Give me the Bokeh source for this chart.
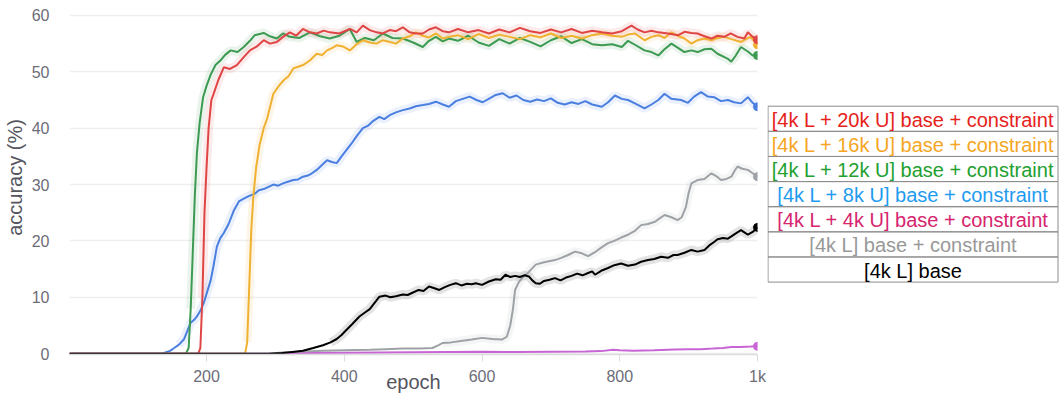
from bokeh.plotting import figure
from bokeh.models import Range1d, FixedTicker, ColumnDataSource
from bokeh.layouts import row
from bokeh.embed import file_html
from bokeh.resources import INLINE
from bokeh.core.properties import value
import numpy as np

# ---------------- data ----------------
green_x = [1, 170, 174, 177, 180, 183, 186, 190, 195, 200, 206, 213, 220, 227, 235, 245, 254, 263, 270, 283, 292, 302, 311, 321, 335, 350, 365, 379, 393, 408, 418, 430, 443, 456, 470, 485, 500, 514, 523, 533, 543, 552, 565, 580, 595, 610, 625, 640, 655, 670, 685, 700, 715, 730, 745, 760, 774, 789, 803, 812, 822, 836, 846, 856, 865, 875, 884, 894, 904, 913, 923, 933, 942, 952, 957, 962, 968, 976, 986, 993, 1000]
green_y = [0, 0, 1, 8, 18, 28, 35.6, 41, 45.5, 47.5, 49.5, 51.2, 52, 53, 53.8, 53.5, 54.4, 55.5, 56.5, 56.9, 56.3, 55.9, 56.8, 56.2, 56.0, 57.0, 56.3, 55.9, 56.4, 57.6, 55.3, 56.0, 55.6, 56.8, 56.0, 55.9, 55.2, 54.4, 55.5, 56.2, 55.4, 55.9, 55.5, 56.4, 55.2, 54.6, 55.8, 55.0, 56.0, 55.3, 54.5, 55.6, 56.3, 55.1, 55.8, 54.9, 54.7, 54.9, 54.4, 55.5, 54.8, 53.8, 53.5, 52.9, 54.0, 55.0, 54.3, 53.5, 53.8, 53.5, 54.0, 54.1, 53.2, 52.6, 52.3, 51.8, 52.8, 54.4, 53.6, 52.9, 52.9]

red_x = [1, 188, 191, 194, 197, 200, 203, 207, 210, 217, 225, 234, 244, 254, 263, 273, 283, 292, 302, 311, 321, 330, 340, 350, 360, 370, 379, 393, 408, 418, 427, 437, 447, 456, 466, 475, 485, 495, 504, 514, 523, 533, 543, 552, 565, 580, 595, 610, 625, 640, 655, 670, 685, 700, 715, 730, 745, 760, 774, 789, 803, 817, 826, 836, 846, 856, 870, 885, 894, 904, 913, 923, 933, 942, 952, 961, 971, 981, 986, 993, 1000]
red_y = [0, 0, 1, 10, 25, 33, 40, 45, 46, 48.5, 50.8, 50.5, 51.2, 52.6, 53.8, 54.5, 55.6, 55.0, 55.3, 56.2, 57.0, 56.4, 57.6, 57.0, 56.8, 57.3, 57.0, 56.8, 57.6, 57.0, 58.2, 57.4, 57.0, 56.8, 57.4, 57.2, 57.9, 57.0, 56.8, 56.8, 57.5, 57.9, 57.2, 57.0, 57.6, 57.0, 57.4, 56.8, 57.5, 57.0, 57.8, 57.2, 56.9, 57.5, 57.0, 57.6, 56.9, 57.3, 57.0, 56.8, 57.2, 58.2, 57.5, 57.0, 57.3, 57.0, 56.8, 56.5, 57.1, 56.9, 56.8, 56.3, 55.9, 56.4, 56.2, 56.8, 56.2, 55.9, 57.0, 56.2, 55.7]

orange_x = [1, 256, 259, 262, 265, 268, 272, 277, 283, 288, 297, 305, 312, 319, 326, 333, 340, 350, 360, 368, 375, 382, 389, 398, 408, 418, 427, 437, 447, 456, 466, 475, 485, 495, 504, 514, 523, 533, 543, 552, 565, 580, 595, 610, 625, 640, 655, 670, 685, 700, 715, 730, 745, 760, 774, 789, 803, 812, 822, 836, 846, 856, 865, 875, 884, 894, 904, 913, 923, 933, 942, 952, 962, 976, 983, 990, 995, 1000]
orange_y = [0, 0, 2, 12, 22, 28, 33, 37, 40, 41.7, 46.1, 47.5, 48.5, 49.2, 50.6, 50.9, 51.2, 52.0, 53.2, 53.0, 53.8, 54.2, 54.7, 54.5, 53.8, 54.9, 55.6, 55.2, 55.0, 55.6, 55.3, 55.0, 55.9, 56.3, 57.0, 56.4, 56.1, 56.8, 55.9, 56.2, 56.5, 55.8, 56.7, 56.0, 56.6, 56.2, 55.8, 56.5, 56.1, 56.8, 56.0, 56.4, 55.9, 56.5, 56.8, 56.4, 56.2, 56.6, 56.8, 55.6, 56.2, 56.5, 56.0, 57.0, 56.4, 55.9, 55.0, 55.6, 55.9, 55.6, 56.0, 56.2, 55.8, 55.3, 55.8, 56.2, 55.5, 54.8]

blue_x = [1, 135, 140, 147, 153, 160, 167, 172, 177, 182, 186, 191, 196, 201, 206, 210, 215, 220, 225, 232, 240, 247, 254, 262, 269, 276, 283, 290, 297, 304, 311, 318, 326, 333, 340, 347, 353, 360, 368, 375, 382, 389, 396, 403, 410, 418, 427, 434, 441, 451, 458, 466, 475, 485, 495, 504, 514, 523, 533, 543, 552, 562, 572, 582, 592, 601, 611, 620, 630, 640, 650, 660, 670, 680, 690, 700, 710, 720, 730, 740, 750, 760, 774, 783, 793, 803, 812, 822, 836, 846, 856, 865, 875, 889, 899, 908, 918, 928, 937, 947, 957, 966, 976, 986, 993, 1000]
blue_y = [0, 0, 0.2, 0.5, 1.0, 1.6, 2.5, 4.0, 5.5, 6.0, 6.6, 7.6, 9.0, 11.0, 13.0, 15.5, 19.0, 20.5, 21.4, 23.0, 25.5, 27.0, 27.5, 28.0, 28.3, 29.0, 29.2, 29.6, 30.0, 29.8, 30.2, 30.5, 30.8, 30.9, 31.4, 31.6, 32.0, 32.6, 33.5, 34.3, 34.0, 33.8, 35.0, 36.1, 37.2, 38.6, 40.0, 40.4, 41.2, 42.0, 41.6, 42.3, 42.8, 43.2, 43.5, 43.9, 44.1, 44.3, 44.7, 44.2, 43.8, 44.8, 45.2, 45.6, 45.0, 44.6, 45.3, 45.9, 46.2, 45.4, 45.8, 45.0, 44.7, 45.1, 44.8, 45.3, 44.5, 44.2, 44.6, 44.3, 44.8, 44.2, 43.8, 44.6, 45.8, 45.2, 45.0, 44.4, 43.5, 44.2, 45.0, 46.1, 45.2, 45.0, 44.5, 45.6, 46.4, 45.6, 45.5, 44.8, 45.0, 44.6, 44.4, 45.5, 44.5, 43.8]

pink_x = [1, 300, 340, 400, 450, 500, 550, 600, 650, 700, 750, 773, 790, 800, 820, 850, 880, 900, 918, 935, 950, 962, 975, 990, 1000]
pink_y = [0, 0, 0.1, 0.15, 0.2, 0.25, 0.3, 0.35, 0.3, 0.35, 0.4, 0.45, 0.7, 0.6, 0.5, 0.6, 0.75, 0.8, 0.8, 0.9, 1.0, 1.2, 1.2, 1.25, 1.3]

gray_x = [1, 290, 310, 340, 370, 400, 437, 460, 485, 510, 528, 537, 543, 555, 572, 585, 600, 615, 629, 636, 641, 645, 648, 653, 658, 668, 678, 690, 706, 715, 725, 735, 745, 754, 764, 773, 783, 792, 802, 812, 822, 831, 841, 851, 858, 865, 875, 884, 890, 896, 900, 904, 913, 923, 933, 940, 947, 955, 962, 967, 971, 978, 986, 993, 1000]
gray_y = [0, 0, 0.2, 0.4, 0.5, 0.6, 0.7, 0.8, 0.9, 0.9, 1.0, 1.5, 1.9, 2.0, 2.3, 2.5, 2.8, 2.6, 2.5, 3.0, 5.0, 8.0, 11.3, 12.6, 13.4, 14.5, 15.8, 16.2, 16.6, 17.0, 17.5, 18.1, 17.8, 17.3, 18.0, 18.8, 19.6, 20.0, 20.6, 21.1, 21.8, 22.8, 23.0, 23.4, 24.0, 24.6, 24.2, 23.7, 24.2, 26.0, 28.5, 30.2, 30.8, 31.0, 32.0, 31.5, 30.8, 31.0, 31.4, 32.5, 33.2, 32.8, 32.6, 32.0, 31.4]

black_x = [1, 290, 310, 325, 340, 355, 369, 380, 389, 396, 403, 412, 422, 430, 437, 444, 451, 460, 467, 475, 485, 492, 499, 508, 515, 523, 531, 538, 546, 554, 562, 570, 578, 585, 591, 600, 610, 620, 627, 634, 641, 648, 655, 662, 668, 673, 678, 684, 690, 698, 706, 714, 722, 730, 738, 746, 754, 760, 764, 773, 783, 792, 802, 812, 822, 831, 841, 850, 860, 870, 878, 884, 894, 904, 913, 923, 930, 937, 942, 950, 957, 962, 968, 976, 981, 986, 993, 1000]
black_y = [0, 0, 0.1, 0.3, 0.5, 1.0, 1.5, 2.0, 2.6, 3.3, 4.2, 5.3, 6.6, 7.3, 7.9, 9.0, 10.1, 10.3, 10.0, 10.2, 10.5, 10.4, 10.8, 11.3, 11.1, 11.9, 11.6, 11.3, 11.8, 12.2, 12.5, 12.1, 12.4, 12.3, 12.5, 12.2, 12.8, 13.2, 13.1, 14.0, 13.6, 13.8, 13.6, 13.9, 13.7, 13.0, 12.5, 12.4, 12.9, 13.1, 13.4, 13.0, 13.5, 13.8, 14.2, 13.9, 14.3, 14.6, 14.0, 14.7, 15.2, 15.7, 16.0, 15.6, 15.8, 16.3, 16.6, 16.8, 17.2, 17.0, 17.5, 17.5, 17.9, 18.4, 18.1, 18.4, 19.2, 19.8, 20.3, 20.5, 20.4, 20.8, 21.3, 21.9, 21.5, 21.1, 21.6, 22.4]

legend_labels = ["[4k L + 20k U] base + constraint",
                 "[4k L + 16k U] base + constraint",
                 "[4k L + 12k U] base + constraint",
                 "[4k L + 8k U] base + constraint",
                 "[4k L + 4k U] base + constraint",
                 "[4k L] base + constraint",
                 "[4k L] base"]
x_ticks = [200, 400, 600, 800, 1000]
x_tick_labels = ["200", "400", "600", "800", "1k"]
y_ticks = [0, 10, 20, 30, 40, 50, 60]

# ---------------- styling ----------------
series = [
    (blue_x, blue_y, "#4a7fe0"),
    (green_x, green_y, "#3c9a52"),
    (orange_x, orange_y, "#f0b030"),
    (red_x, red_y, "#e04545"),
    (pink_x, pink_y, "#c865d4"),
    (gray_x, gray_y, "#9ea2a6"),
    (black_x, black_y, "#000000"),
]
legend_colors = ["#e6221c", "#f5a623", "#22a030", "#1f9bf0", "#d6246e", "#999999", "#000000"]

FONT = "Liberation Sans"
FIG_H = 395
BORDER_B = 40

p = figure(width=767, height=FIG_H, output_backend="svg", toolbar_location=None,
           x_range=Range1d(1, 1000), y_range=Range1d(-0.15, 62.65),
           min_border_left=66, min_border_right=10, min_border_top=0, min_border_bottom=BORDER_B)
p.outline_line_color = None
p.background_fill_color = "white"
p.border_fill_color = "white"
p.xgrid.grid_line_color = None
p.ygrid.grid_line_color = "#efefef"
p.ygrid.grid_line_width = 1.5

p.yaxis.ticker = FixedTicker(ticks=y_ticks)
p.yaxis.axis_line_color = None
p.yaxis.major_tick_line_color = None
p.yaxis.minor_tick_line_color = None
p.yaxis.major_label_standoff = 14
p.yaxis.axis_label = "accuracy (%)"
p.yaxis.axis_label_standoff = 3

p.xaxis.ticker = FixedTicker(ticks=x_ticks)
p.xaxis.major_label_overrides = {t: l for t, l in zip(x_ticks, x_tick_labels)}
p.xaxis.axis_line_color = "#dcdcdc"
p.xaxis.axis_line_width = 1.5
p.xaxis.major_tick_line_color = "#dcdcdc"
p.xaxis.major_tick_out = 7
p.xaxis.major_tick_in = 0
p.xaxis.minor_tick_line_color = None
p.xaxis.major_label_standoff = 6
p.xaxis.axis_label = "epoch"
p.xaxis.axis_label_standoff = -17

for ax in (p.xaxis, p.yaxis):
    ax.major_label_text_font = FONT
    ax.major_label_text_font_size = "16px"
    ax.major_label_text_color = "#6d6d78"
    ax.axis_label_text_font = FONT
    ax.axis_label_text_font_size = "20px"
    ax.axis_label_text_font_style = "normal"
    ax.axis_label_text_color = "#555560"

# faint haze (stand-in for the raw noisy runs)
for xs, ys, c in series:
    ya = np.array(ys, dtype=float)
    band = np.where(ya > 1.5, ya, np.nan)
    p.line(xs, band, line_color=c, line_width=9, line_alpha=0.11)

# smoothed lines + end markers
for xs, ys, c in series:
    p.line(xs, ys, line_color=c, line_width=2)
    p.scatter([xs[-1]], [ys[-1]], size=8, fill_color=c, line_color=c)

# ---------------- legend panel ----------------
# frames in a row are aligned, so the legend panel shares the bottom border;
# its y range is set so one unit equals one pixel from the top of the page.
n = len(legend_labels)
row_h = 25.2
top0 = 106
LEG_W = 296
frame_h = FIG_H - BORDER_B
leg = figure(width=LEG_W, height=FIG_H, output_backend="svg", toolbar_location=None,
             x_range=Range1d(0, LEG_W), y_range=Range1d(frame_h, 0),
             x_axis_location=None, y_axis_location=None,
             min_border_left=0, min_border_right=0, min_border_top=0,
             min_border_bottom=BORDER_B)
leg.outline_line_color = None
leg.xgrid.grid_line_color = None
leg.ygrid.grid_line_color = None
tops = [top0 + i * row_h for i in range(n)]
box_l, box_r = 0.5, 290.5
src = ColumnDataSource(dict(
    left=[box_l] * n, right=[box_r] * n, top=tops, bottom=[t + row_h for t in tops],
    cx=[(box_l + box_r) / 2] * n, cy=[t + row_h / 2 + 1 for t in tops],
    label=legend_labels, color=legend_colors))
leg.quad(left="left", right="right", top="top", bottom="bottom", source=src,
         fill_color=None, line_color="#8c8c8c", line_width=1)
leg.text(x="cx", y="cy", text="label", text_color="color", source=src,
         text_align="center", text_baseline="middle",
         text_font=value(FONT), text_font_size="20px")

layout = row(p, leg)
open("out.html", "w").write(file_html(layout, INLINE))
